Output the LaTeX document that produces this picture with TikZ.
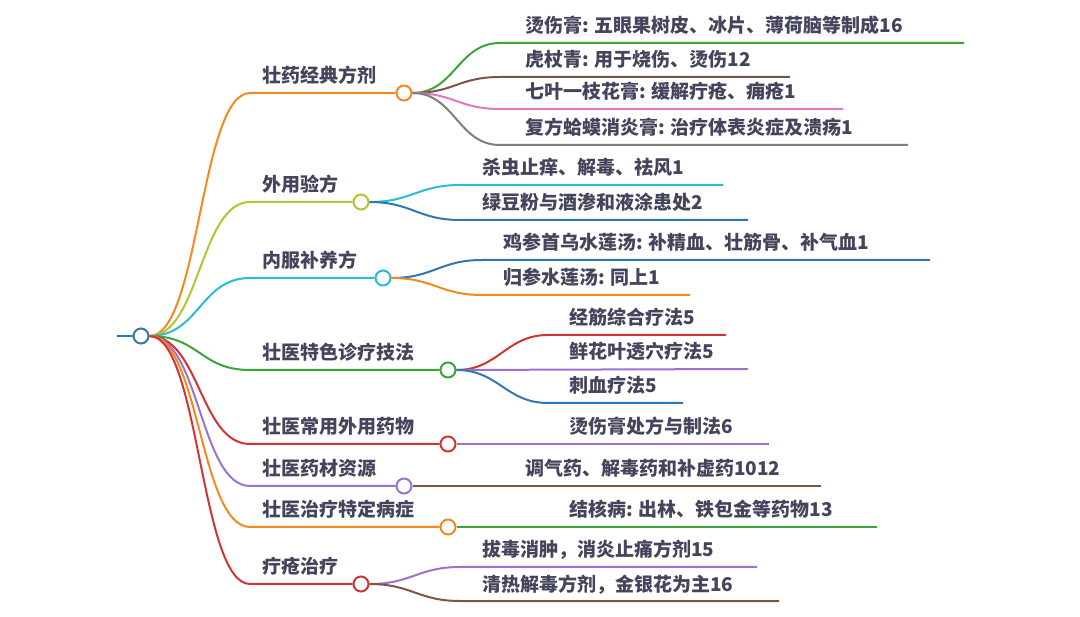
\documentclass[tikz,border=0pt]{standalone}
\usepackage{fontspec}
\newfontfamily\cjk{Noto Sans CJK SC}
\usetikzlibrary{positioning}

\definecolor{mmblue}{HTML}{2F78B4}
\definecolor{mmorange}{HTML}{F5891F}
\definecolor{mmolive}{HTML}{B5C334}
\definecolor{mmcyan}{HTML}{2BBCD0}
\definecolor{mmgreen}{HTML}{3AA63A}
\definecolor{mmred}{HTML}{D03535}
\definecolor{mmpurple}{HTML}{9C72CF}
\definecolor{mmbrown}{HTML}{7E5444}
\definecolor{mmpink}{HTML}{E277C3}
\definecolor{mmgray}{HTML}{7F7F7F}
\definecolor{mmtext}{HTML}{44445C}

\begin{document}
\begin{tikzpicture}[
    x=1pt, y=-1pt,
    dot/.style={circle, draw, fill=white, line width=2pt, minimum size=15pt, inner sep=0pt},
    link/.style={line width=2pt},
    lbl/.style={anchor=base west, inner sep=0pt, text=mmtext, font=\cjk\bfseries\fontsize{19}{22}\selectfont}
]
\useasboundingbox (0,0) rectangle (1080,617);

% --- Root ---
\coordinate (r0) at (117,336);
\node[dot, draw=mmblue] (root) at (141,336) {};
\draw[link, mmblue] (r0) -- (root.west);

% --- 壮药经典方剂 ---
\coordinate (s1) at (250,93);
\node[dot, draw=mmorange] (b1) at (404,93) {};
\node[lbl] (t1) at (262,83) {壮药经典方剂};
\draw[link, mmorange] (root.east) .. controls +(50,0) and +(-50,0) .. (s1) -- (b1.west);

\coordinate (s11) at (500,43);  \coordinate (e11) at (964,43);
\coordinate (s12) at (500,77);  \coordinate (e12) at (790,77);
\coordinate (s13) at (500,109); \coordinate (e13) at (843,109);
\coordinate (s14) at (500,145); \coordinate (e14) at (908,145);
\node[lbl] (t11) at (525,33)  {烫伤膏: 五眼果树皮、冰片、薄荷脑等制成16};
\node[lbl] (t12) at (525,67)  {虎杖青: 用于烧伤、烫伤12};
\node[lbl] (t13) at (525,99)  {七叶一枝花膏: 缓解疔疮、痈疮1};
\node[lbl] (t14) at (525,135) {复方蛤蟆消炎膏: 治疗体表炎症及溃疡1};
\draw[link, mmgreen]  (b1.east) .. controls +(42,0) and +(-42,0) .. (s11) -- (e11);
\draw[link, mmbrown]  (b1.east) .. controls +(42,0) and +(-42,0) .. (s12) -- (e12);
\draw[link, mmpink]   (b1.east) .. controls +(42,0) and +(-42,0) .. (s13) -- (e13);
\draw[link, mmgray]   (b1.east) .. controls +(42,0) and +(-42,0) .. (s14) -- (e14);

% --- 外用验方 ---
\coordinate (s2) at (250,202);
\node[dot, draw=mmolive] (b2) at (361,202) {};
\node[lbl] (t2) at (262,192) {外用验方};
\draw[link, mmolive] (root.east) .. controls +(50,0) and +(-50,0) .. (s2) -- (b2.west);

\coordinate (s21) at (460,185); \coordinate (e21) at (723,185);
\coordinate (s22) at (460,220); \coordinate (e22) at (748,220);
\node[lbl] (t21) at (482,175) {杀虫止痒、解毒、祛风1};
\node[lbl] (t22) at (482,210) {绿豆粉与酒渗和液涂患处2};
\draw[link, mmcyan] (b2.east) .. controls +(42,0) and +(-42,0) .. (s21) -- (e21);
\draw[link, mmblue] (b2.east) .. controls +(42,0) and +(-42,0) .. (s22) -- (e22);

% --- 内服补养方 ---
\coordinate (s3) at (250,278);
\node[dot, draw=mmcyan] (b3) at (383,278) {};
\node[lbl] (t3) at (262,268) {内服补养方};
\draw[link, mmcyan] (root.east) .. controls +(50,0) and +(-50,0) .. (s3) -- (b3.west);

\coordinate (s31) at (482,260); \coordinate (e31) at (930,260);
\coordinate (s32) at (482,295); \coordinate (e32) at (690,295);
\node[lbl] (t31) at (503,250) {鸡参首乌水莲汤: 补精血、壮筋骨、补气血1};
\node[lbl] (t32) at (503,285) {归参水莲汤: 同上1};
\draw[link, mmblue]   (b3.east) .. controls +(42,0) and +(-42,0) .. (s31) -- (e31);
\draw[link, mmorange] (b3.east) .. controls +(42,0) and +(-42,0) .. (s32) -- (e32);

% --- 壮医特色诊疗技法 ---
\coordinate (s4) at (250,370);
\node[dot, draw=mmgreen] (b4) at (448,370) {};
\node[lbl] (t4) at (262,360) {壮医特色诊疗技法};
\draw[link, mmgreen] (root.east) .. controls +(50,0) and +(-50,0) .. (s4) -- (b4.west);

\coordinate (s41) at (548,335); \coordinate (e41) at (726,335);
\coordinate (s42) at (548,369); \coordinate (e42) at (748,369);
\coordinate (s43) at (548,403); \coordinate (e43) at (683,403);
\node[lbl] (t41) at (569,325) {经筋综合疗法5};
\node[lbl] (t42) at (569,359) {鲜花叶透穴疗法5};
\node[lbl] (t43) at (569,393) {刺血疗法5};
\draw[link, mmred]    (b4.east) .. controls +(42,0) and +(-42,0) .. (s41) -- (e41);
\draw[link, mmpurple] (b4.east) -- (e42);
\draw[link, mmblue]   (b4.east) .. controls +(42,0) and +(-42,0) .. (s43) -- (e43);

% --- 壮医常用外用药物 ---
\coordinate (s5) at (250,444);
\node[dot, draw=mmred] (b5) at (448,444) {};
\node[lbl] (t5) at (262,434) {壮医常用外用药物};
\draw[link, mmred] (root.east) .. controls +(50,0) and +(-50,0) .. (s5) -- (b5.west);

\coordinate (e51) at (769,444);
\node[lbl] (t51) at (569,434) {烫伤膏处方与制法6};
\draw[link, mmpurple] (b5.east) -- (e51);

% --- 壮医药材资源 ---
\coordinate (s6) at (250,486);
\node[dot, draw=mmpurple] (b6) at (404,486) {};
\node[lbl] (t6) at (262,476) {壮医药材资源};
\draw[link, mmpurple] (root.east) .. controls +(50,0) and +(-50,0) .. (s6) -- (b6.west);

\coordinate (e61) at (821,486);
\node[lbl] (t61) at (525,476) {调气药、解毒药和补虚药1012};
\draw[link, mmbrown] (b6.east) -- (e61);

% --- 壮医治疗特定病症 ---
\coordinate (s7) at (250,527);
\node[dot, draw=mmorange] (b7) at (448,527) {};
\node[lbl] (t7) at (262,517) {壮医治疗特定病症};
\draw[link, mmorange] (root.east) .. controls +(50,0) and +(-50,0) .. (s7) -- (b7.west);

\coordinate (e71) at (877,527);
\node[lbl] (t71) at (569,517) {结核病: 出林、铁包金等药物13};
\draw[link, mmgreen] (b7.east) -- (e71);

% --- 疔疮治疗 ---
\coordinate (s8) at (250,584);
\node[dot, draw=mmred] (b8) at (361,584) {};
\node[lbl] (t8) at (262,574) {疔疮治疗};
\draw[link, mmred] (root.east) .. controls +(50,0) and +(-50,0) .. (s8) -- (b8.west);

\coordinate (s81) at (460,567); \coordinate (e81) at (757,567);
\coordinate (s82) at (460,601); \coordinate (e82) at (779,601);
\node[lbl] (t81) at (482,557) {拔毒消肿，消炎止痛方剂15};
\node[lbl] (t82) at (482,591) {清热解毒方剂，金银花为主16};
\draw[link, mmpurple] (b8.east) .. controls +(42,0) and +(-42,0) .. (s81) -- (e81);
\draw[link, mmbrown]  (b8.east) .. controls +(42,0) and +(-42,0) .. (s82) -- (e82);

\end{tikzpicture}
\end{document}
